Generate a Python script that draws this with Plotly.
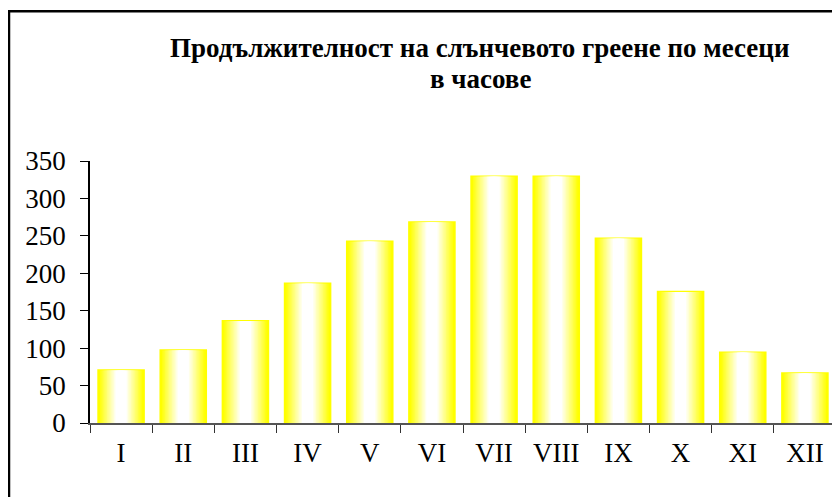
import plotly.graph_objects as go

months = ["I", "II", "III", "IV", "V", "VI", "VII", "VIII", "IX", "X", "XI", "XII"]
hours = [70, 97, 136, 186, 242, 268, 329, 329, 246, 175, 94, 66]
y_ticks = [0, 50, 100, 150, 200, 250, 300, 350]
title_line1 = "Продължителност на слънчевото греене по месеци"
title_line2 = "в часове"

FONT = "Liberation Serif, Times New Roman, serif"

# plot area in page pixels (page has an 8px body margin)
PX0, PX1, PY0, PY1 = 90, 836, 160.7, 422.7
PW, PH = PX1 - PX0, PY1 - PY0


def px(x):
    return (x - PX0) / PW


def py(y):
    return (PY1 - y) / PH


fig = go.Figure()

# Gradient bars: overlay progressively narrower, whiter bars
n_layers = 16
bar_width = 0.725
for k in range(n_layers):
    t = k / n_layers
    w = bar_width * (1 - t)
    b = int(round(255 * min(1.0, t / 0.75) ** 1.0))
    color = f"rgb(255,255,{b})"
    fig.add_trace(go.Bar(
        x=months, y=hours, width=w,
        marker=dict(color=color,
                    line=dict(color="#FFFF00", width=2.5 if k == 0 else 0)),
        showlegend=False, hoverinfo="skip" if k else "x+y",
    ))

fig.update_layout(
    width=832, height=489, autosize=False,
    barmode="overlay",
    plot_bgcolor="white", paper_bgcolor="white",
    margin=dict(l=PX0 - 8, r=832 - (PX1 - 8), t=PY0 - 8, b=489 - (PY1 - 8), pad=0),
    font=dict(family=FONT, color="black", size=27),
    xaxis=dict(
        type="category", categoryorder="array", categoryarray=months,
        showline=True, linecolor="#555555", linewidth=2,
        ticks="outside", tickson="boundaries", ticklen=8, tickcolor="#333333",
        tickwidth=1, showgrid=False, zeroline=False,
        tickfont=dict(family=FONT, size=27, color="black"),
        ticklabelstandoff=5,
    ),
    yaxis=dict(
        range=[0, 350], tickvals=y_ticks,
        showline=True, linecolor="black", linewidth=1.5,
        ticks="outside", ticklen=8, tickcolor="black", tickwidth=1,
        showgrid=False, zeroline=False,
        tickfont=dict(family=FONT, size=27, color="black"),
        ticklabelstandoff=9,
    ),
    annotations=[
        dict(text="<b>" + title_line1 + "</b>", xref="paper", yref="paper",
             x=px(479), y=py(48), xanchor="center", yanchor="middle",
             showarrow=False, font=dict(family=FONT, size=27, color="black")),
        dict(text="<b>" + title_line2 + "</b>", xref="paper", yref="paper",
             x=px(480), y=py(79), xanchor="center", yanchor="middle",
             showarrow=False, font=dict(family=FONT, size=27, color="black")),
    ],
    shapes=[
        dict(type="rect", xref="paper", yref="paper",
             x0=px(9), x1=px(850), y0=py(510), y1=py(11),
             line=dict(color="black", width=2.5), fillcolor="rgba(0,0,0,0)",
             layer="above"),
    ],
)

fig.write_html("out.html")
